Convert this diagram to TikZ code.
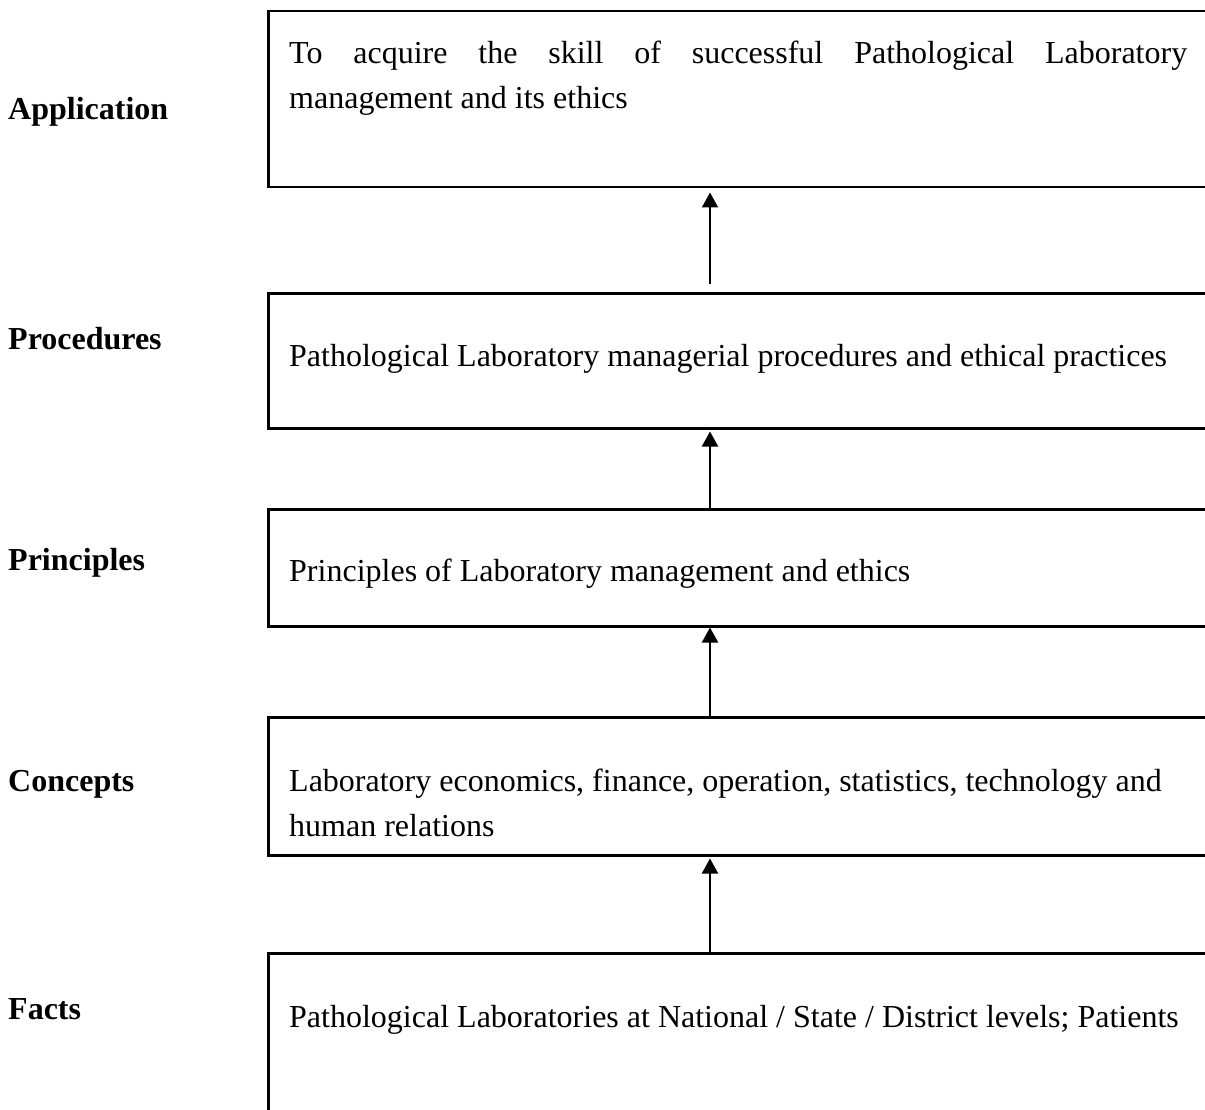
\documentclass[tikz,border=0pt]{standalone}
\usepackage{fontspec}
\setmainfont{Liberation Serif}
\usetikzlibrary{arrows.meta}
\tikzset{
	level/.style={draw, line width=2.5pt, rectangle, minimum width=980pt, anchor=north west, inner sep=0pt},
	levelname/.style={anchor=base west, inner sep=0pt, font=\fontsize{32}{45}\selectfont\bfseries},
	leveltext/.style={anchor=base west, inner sep=0pt, font=\fontsize{32}{45}\selectfont},
	up/.style={-{Triangle[length=15pt,width=16pt]}, line width=2pt},
}
\begin{document}
\begin{tikzpicture}[x=1pt,y=-1pt]
	\useasboundingbox (0,0) rectangle (1205,1110);
	\clip (0,0) rectangle (1205,1110);
	% the five levels
	\node [level, minimum height=176pt] (b1) at (267,10) {};
	\node [level, minimum height=135pt] (b2) at (267,292) {};
	\node [level, minimum height=117pt] (b3) at (267,508) {};
	\node [level, minimum height=138pt] (b4) at (267,716) {};
	\node [level, minimum height=220pt] (b5) at (267,952) {};
	% names on the left
	\node [levelname] (n1) at (8,120) {Application};
	\node [levelname] (n2) at (8,349) {Procedures};
	\node [levelname] (n3) at (8,570) {Principles};
	\node [levelname] (n4) at (8,791) {Concepts};
	\node [levelname] (n5) at (8,1019) {Facts};
	% texts in the boxes
	\node [leveltext, anchor=north west, text width=898pt, align=justify] (t1) at (289,41) {To acquire the skill of successful Pathological Laboratory\linebreak management and its ethics};
	\node [leveltext] (t2) at (289,366) {Pathological Laboratory managerial procedures and ethical practices};
	\node [leveltext] (t3) at (289,581) {Principles of Laboratory management and ethics};
	\node [leveltext, anchor=north west, text width=898pt, align=flush left] (t4) at (289,769) {Laboratory economics, finance, operation, statistics, technology and human relations};
	\node [leveltext] (t5) at (289,1027) {Pathological Laboratories at National / State / District levels; Patients};
	% arrows
	\coordinate (ax) at (710,0);
	\draw [up] ([yshift=8pt]b2.north -| ax) -- ([yshift=-4pt]b1.south -| ax);
	\draw [up] (b3.north -| ax) -- ([yshift=-2pt]b2.south -| ax);
	\draw [up] (b4.north -| ax) -- (b3.south -| ax);
	\draw [up] (b5.north -| ax) -- ([yshift=-2pt]b4.south -| ax);
\end{tikzpicture}
\end{document}
